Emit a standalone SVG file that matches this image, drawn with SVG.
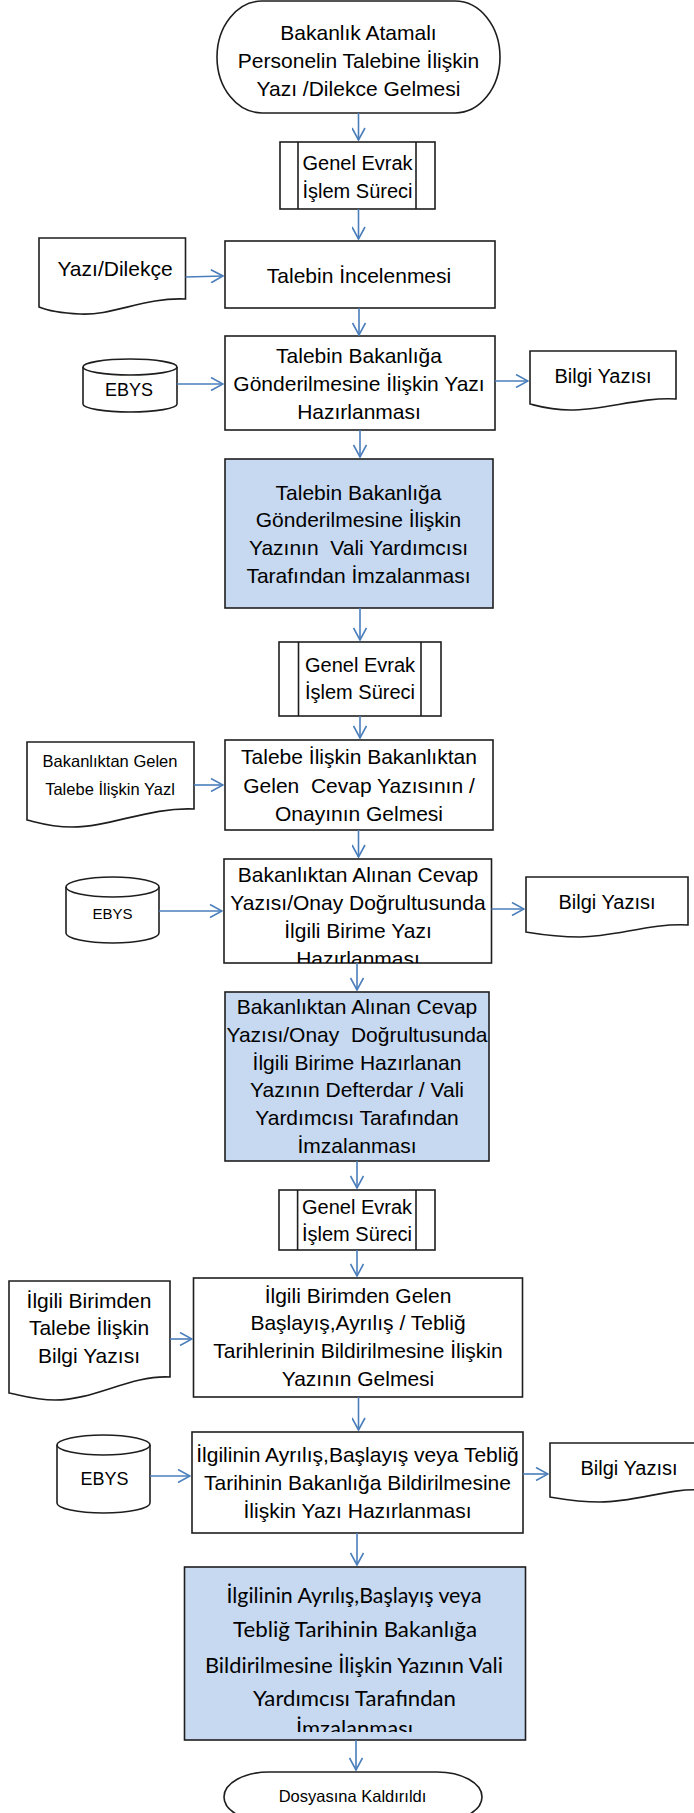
<svg xmlns="http://www.w3.org/2000/svg" width="694" height="1813" viewBox="0 0 694 1813">
<style>
.b{fill:#fff;stroke:#1e1e1e;stroke-width:1.6}
.bl{fill:#C6D9F1;stroke:#1e1e1e;stroke-width:1.6}
.ln{fill:none;stroke:#1e1e1e;stroke-width:1.6}
.t{font-family:"Liberation Sans",Arial,sans-serif;font-size:21px;fill:#000;text-anchor:middle}
.s{font-size:20px}
.g{font-family:Lato,"Liberation Sans",sans-serif;font-size:21px;fill:#000;text-anchor:middle}
.c line{stroke:#4A7EBB;stroke-width:1.6;marker-end:url(#ah)}
</style>
<defs>
<marker id="ah" viewBox="0 0 14 14" refX="13" refY="7" markerWidth="14" markerHeight="14" markerUnits="userSpaceOnUse" orient="auto">
<path d="M1,0.5 L13,7 L1,13.5" fill="none" stroke="#4A7EBB" stroke-width="1.6"/>
</marker>
<clipPath id="cp1"><rect x="224" y="859" width="268" height="104"/></clipPath>
<clipPath id="cp2"><rect x="184" y="1568" width="342" height="164"/></clipPath>
</defs>

<g id="start">
<rect class="b" x="217" y="1" width="283" height="112" rx="45" ry="56"/>
<text class="t" x="358.5" y="40">Bakanlık Atamalı</text>
<text class="t" x="358.5" y="68">Personelin Talebine İlişkin</text>
<text class="t" x="358.5" y="96">Yazı /Dilekce Gelmesi</text>
</g>

<g id="genel1">
<rect class="b" x="280" y="142" width="155" height="67"/>
<line class="ln" x1="298" y1="142" x2="298" y2="209"/>
<line class="ln" x1="416" y1="142" x2="416" y2="209"/>
<text class="t s" x="357.5" y="170">Genel Evrak</text>
<text class="t s" x="357.5" y="198">İşlem Süreci</text>
</g>

<g id="doc1">
<path class="b" d="M39,238 H185.5 V299 C145,297 112,316 80,314 C60,313 46,310 39,307 Z"/>
<text class="t" x="115" y="276">Yazı/Dilekçe</text>
</g>

<g id="inceleme">
<rect class="b" x="225" y="241" width="270" height="67"/>
<text class="t" x="359" y="283">Talebin İncelenmesi</text>
</g>

<g id="ebys1">
<path class="b" d="M83,367 A47,8 0 0 1 177,367 V404 A47,8 0 0 1 83,404 Z"/>
<path class="ln" d="M83,367 A47,8 0 0 0 177,367"/>
<text class="t" style="font-size:18px" x="129" y="396">EBYS</text>
</g>

<g id="hazirlik1">
<rect class="b" x="225" y="336" width="270" height="94"/>
<text class="t" x="359" y="363">Talebin Bakanlığa</text>
<text class="t" x="359" y="391">Gönderilmesine İlişkin Yazı</text>
<text class="t" x="359" y="419">Hazırlanması</text>
</g>

<g id="bilgi1">
<path class="b" d="M530,351 H676 V399 C640,397 605,410 570,410 C550,410 538,406 530,404 Z"/>
<text class="t s" x="603" y="383">Bilgi Yazısı</text>
</g>

<g id="imza1">
<rect class="bl" x="225" y="459" width="268" height="149"/>
<text class="t" x="358.5" y="500">Talebin Bakanlığa</text>
<text class="t" x="358.5" y="527">Gönderilmesine İlişkin</text>
<text class="t" x="358.5" y="555" xml:space="preserve">Yazının  Vali Yardımcısı</text>
<text class="t" x="358.5" y="583">Tarafından İmzalanması</text>
</g>

<g id="genel2">
<rect class="b" x="279" y="642" width="162" height="74"/>
<line class="ln" x1="298.5" y1="642" x2="298.5" y2="716"/>
<line class="ln" x1="421" y1="642" x2="421" y2="716"/>
<text class="t s" x="360" y="672">Genel Evrak</text>
<text class="t s" x="360" y="699">İşlem Süreci</text>
</g>

<g id="doc2">
<path class="b" d="M27,742 H194 V809 C150,807 110,827 72,827 C50,827 36,822 27,820 Z"/>
<text class="t" style="font-size:16.5px" x="110" y="767">Bakanlıktan Gelen</text>
<text class="t" style="font-size:16.5px" x="110" y="795">Talebe İlişkin Yazl</text>
</g>

<g id="cevap">
<rect class="b" x="225" y="740" width="268" height="90"/>
<text class="t" x="359" y="764">Talebe İlişkin Bakanlıktan</text>
<text class="t" x="359" y="793" xml:space="preserve">Gelen  Cevap Yazısının /</text>
<text class="t" x="359" y="821">Onayının Gelmesi</text>
</g>

<g id="ebys2">
<path class="b" d="M66,887 A46.5,10 0 0 1 159,887 V933 A46.5,10 0 0 1 66,933 Z"/>
<path class="ln" d="M66,887 A46.5,10 0 0 0 159,887"/>
<text class="t" style="font-size:15px" x="112.5" y="919">EBYS</text>
</g>

<g id="hazirlik2">
<rect class="b" x="224" y="859" width="267.5" height="104"/>
<g clip-path="url(#cp1)">
<text class="t" x="358" y="882">Bakanlıktan Alınan Cevap</text>
<text class="t" x="358" y="910">Yazısı/Onay Doğrultusunda</text>
<text class="t" x="358" y="938">İlgili Birime Yazı</text>
<text class="t" x="358" y="966">Hazırlanması</text>
</g>
</g>

<g id="bilgi2">
<path class="b" d="M526,877 H688 V925 C650,923 615,937 580,937 C555,937 538,934 526,932 Z"/>
<text class="t s" x="607" y="909">Bilgi Yazısı</text>
</g>

<g id="imza2">
<rect class="bl" x="225" y="992" width="264" height="169"/>
<text class="t" x="357" y="1014">Bakanlıktan Alınan Cevap</text>
<text class="t" x="357" y="1042" xml:space="preserve">Yazısı/Onay  Doğrultusunda</text>
<text class="t" x="357" y="1070">İlgili Birime Hazırlanan</text>
<text class="t" x="357" y="1097">Yazının Defterdar / Vali</text>
<text class="t" x="357" y="1125">Yardımcısı Tarafından</text>
<text class="t" x="357" y="1153">İmzalanması</text>
</g>

<g id="genel3">
<rect class="b" x="279" y="1190" width="156" height="60"/>
<line class="ln" x1="297.6" y1="1190" x2="297.6" y2="1250"/>
<line class="ln" x1="416" y1="1190" x2="416" y2="1250"/>
<text class="t s" x="357" y="1214">Genel Evrak</text>
<text class="t s" x="357" y="1241">İşlem Süreci</text>
</g>

<g id="doc3">
<path class="b" d="M9,1281 H170 V1377 C130,1375 95,1400 55,1400 C35,1400 20,1395 9,1393 Z"/>
<text class="t" x="89" y="1308">İlgili Birimden</text>
<text class="t" x="89" y="1335">Talebe İlişkin</text>
<text class="t" x="89" y="1363">Bilgi Yazısı</text>
</g>

<g id="birimden">
<rect class="b" x="193.5" y="1278" width="329" height="119"/>
<text class="t" x="358" y="1303">İlgili Birimden Gelen</text>
<text class="t" x="358" y="1330">Başlayış,Ayrılış / Tebliğ</text>
<text class="t" x="358" y="1358">Tarihlerinin Bildirilmesine İlişkin</text>
<text class="t" x="358" y="1386">Yazının Gelmesi</text>
</g>

<g id="ebys3">
<path class="b" d="M57,1445 A46.5,10 0 0 1 150,1445 V1503 A46.5,10 0 0 1 57,1503 Z"/>
<path class="ln" d="M57,1445 A46.5,10 0 0 0 150,1445"/>
<text class="t" style="font-size:18px" x="104.5" y="1485">EBYS</text>
</g>

<g id="hazirlik3">
<rect class="b" x="192" y="1432" width="331" height="101"/>
<text class="t" x="357.5" y="1462">İlgilinin Ayrılış,Başlayış veya Tebliğ</text>
<text class="t" x="357.5" y="1490">Tarihinin Bakanlığa Bildirilmesine</text>
<text class="t" x="357.5" y="1518">İlişkin Yazı Hazırlanması</text>
</g>

<g id="bilgi3">
<path class="b" d="M550,1443 H700 V1490 C670,1488 635,1502 600,1502 C578,1502 562,1499 550,1497 Z"/>
<text class="t s" x="629" y="1475">Bilgi Yazısı</text>
</g>

<g id="imza3">
<rect class="bl" x="184.5" y="1567" width="341" height="173"/>
<g clip-path="url(#cp2)">
<text class="g" x="354" y="1603" textLength="255" lengthAdjust="spacingAndGlyphs">İlgilinin Ayrılış,Başlayış veya</text>
<text class="g" x="355" y="1637" textLength="244" lengthAdjust="spacingAndGlyphs">Tebliğ Tarihinin Bakanlığa</text>
<text class="g" x="354" y="1673" textLength="298" lengthAdjust="spacingAndGlyphs">Bildirilmesine İlişkin Yazının Vali</text>
<text class="g" x="354.5" y="1706" textLength="203" lengthAdjust="spacingAndGlyphs">Yardımcısı Tarafından</text>
<text class="g" x="354.5" y="1736" textLength="117" lengthAdjust="spacingAndGlyphs">İmzalanması</text>
</g>
</g>

<g id="end">
<rect class="b" x="224" y="1772" width="258" height="50" rx="45" ry="25"/>
<text class="t" style="font-size:16.5px" x="352.5" y="1802">Dosyasına Kaldırıldı</text>
</g>

<g id="connectors" class="c">
<line x1="358.5" y1="113" x2="358.5" y2="140"/>
<line x1="358.5" y1="209" x2="358.5" y2="239"/>
<line x1="185.5" y1="277" x2="223" y2="276"/>
<line x1="359" y1="308" x2="359" y2="335"/>
<line x1="177" y1="384" x2="223" y2="384"/>
<line x1="495" y1="381" x2="528" y2="381"/>
<line x1="360" y1="430" x2="360" y2="457"/>
<line x1="360" y1="608" x2="360" y2="640"/>
<line x1="360" y1="716" x2="360" y2="738"/>
<line x1="194" y1="785" x2="223" y2="785"/>
<line x1="358.5" y1="830" x2="358.5" y2="857"/>
<line x1="159" y1="911" x2="222" y2="911"/>
<line x1="491.5" y1="909" x2="524" y2="909"/>
<line x1="357" y1="963" x2="357" y2="990"/>
<line x1="357" y1="1161" x2="357" y2="1188"/>
<line x1="357" y1="1250" x2="357" y2="1276"/>
<line x1="170" y1="1339" x2="192" y2="1339"/>
<line x1="358.5" y1="1397" x2="358.5" y2="1430"/>
<line x1="150" y1="1476" x2="190" y2="1476"/>
<line x1="523" y1="1474" x2="548" y2="1474"/>
<line x1="357" y1="1533" x2="357" y2="1565"/>
<line x1="356" y1="1740" x2="356" y2="1770"/>
</g>
</svg>
